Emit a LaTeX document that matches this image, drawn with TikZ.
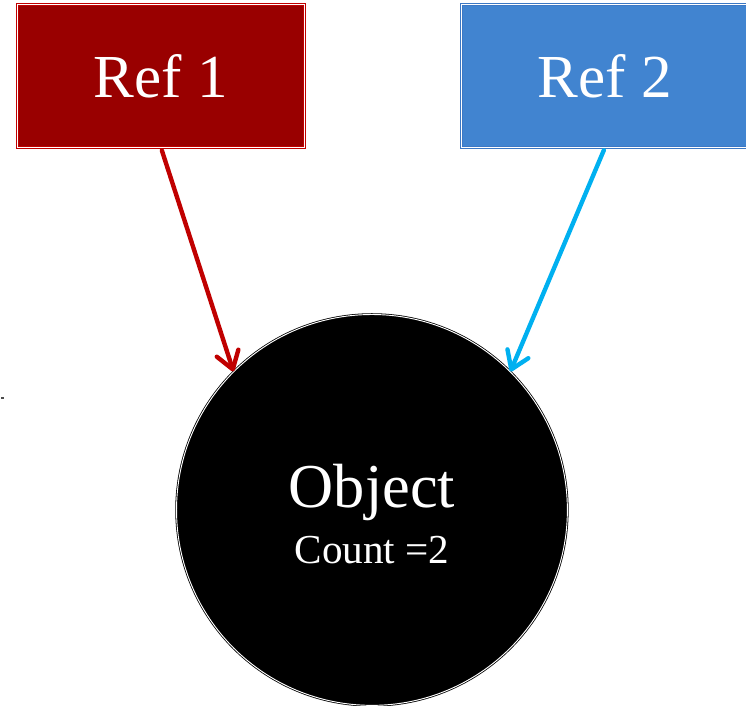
\documentclass[tikz,border=0pt]{standalone}
\usepackage{fontspec}
\setmainfont{Liberation Serif}
\usetikzlibrary{arrows.meta}
\definecolor{refRed}{HTML}{990000}
\definecolor{refRedEdge}{HTML}{C00000}
\definecolor{refBlue}{HTML}{4184D0}
\definecolor{refBlueEdge}{HTML}{3C78C4}
\definecolor{arrRed}{HTML}{C00000}
\definecolor{arrBlue}{HTML}{00B0F0}
\tikzset{
  refbox/.style={draw=#1Edge, fill=#1, double=white, double distance=0.7pt, line width=0.7pt,
    minimum width=7.6cm, minimum height=3.78cm, inner sep=0pt, text=white,
    font=\fontsize{46}{50}\selectfont},
  objcirc/.style={circle, draw=black, fill=black, double=white, double distance=0.7pt, line width=0.6pt,
    minimum size=10.34cm, inner sep=0pt},
  objtext/.style={text=white, align=center, inner sep=0pt, text height=47pt,
    font=\fontsize{47}{42}\selectfont},
  refarrow/.style={draw=#1, line width=3.3pt, line cap=round, shorten <=2pt,
    -{Straight Barb[length=4.5mm,width=6mm,round]}},
}
\begin{document}
\begin{tikzpicture}
\useasboundingbox (0,0) rectangle (19.735,-18.651);
% --- references
\node[refbox=refRed] (ref1) at (4.26,-2.01) {Ref 1};
\node[refbox=refBlue] (ref2) at (16.0,-2.01) {Ref 2};
% --- object
\node[objcirc] (obj) at (9.84,-13.49) {};
\node[objtext, yshift=-0.6cm] (objlabel) at (obj.center) {Object\\{\fontsize{31}{36}\selectfont Count =2}};
% --- arrows
\draw[refarrow=arrRed] (ref1.south) -- (obj.135);
\draw[refarrow=arrBlue] (ref2.south) -- (obj.45);
% --- stray mark
\fill[black!70] (0.03,-10.50) rectangle (0.11,-10.55);
\end{tikzpicture}
\end{document}
